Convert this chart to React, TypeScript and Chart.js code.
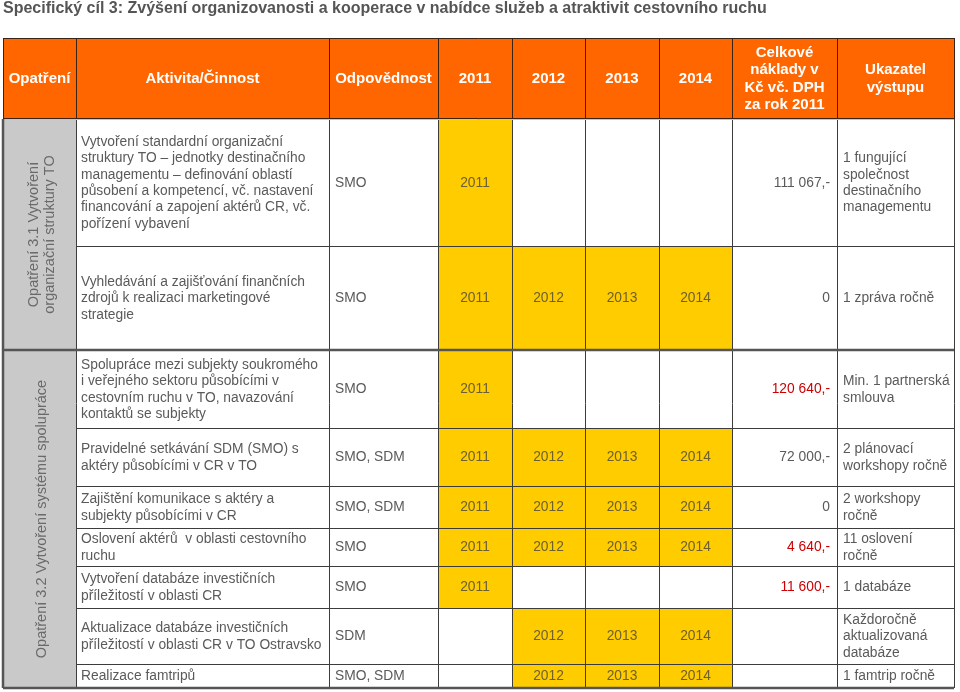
import React, { useEffect, useRef } from "react";
import { Chart, registerables } from "chart.js";
Chart.register(...registerables);

// ---------- data ----------
const TITLE =
  "Specifický cíl 3: Zvýšení organizovanosti a kooperace v nabídce služeb a atraktivit cestovního ruchu";
const HEADERS = [
  "Opatření",
  "Aktivita/Činnost",
  "Odpovědnost",
  "2011",
  "2012",
  "2013",
  "2014",
  "Celkové\nnáklady v\nKč vč. DPH\nza rok 2011",
  "Ukazatel\nvýstupu",
];
const YEARS = [2011, 2012, 2013, 2014];
const MEASURES = [
  "Opatření 3.1 Vytvoření\norganizační struktury TO",
  "Opatření 3.2 Vytvoření systému spolupráce",
];
const MEASURE_ACTIVITY_COUNT = [2, 7];
const ACTIVITIES = [
  "Vytvoření standardní organizační\nstruktury TO – jednotky destinačního\nmanagementu – definování oblastí\npůsobení a kompetencí, vč. nastavení\nfinancování a zapojení aktérů CR, vč.\npořízení vybavení",
  "Vyhledávání a zajišťování finančních\nzdrojů k realizaci marketingové\nstrategie",
  "Spolupráce mezi subjekty soukromého\ni veřejného sektoru působícími v\ncestovním ruchu v TO, navazování\nkontaktů se subjekty",
  "Pravidelné setkávání SDM (SMO) s\naktéry působícími v CR v TO",
  "Zajištění komunikace s aktéry a\nsubjekty působícími v CR",
  "Oslovení aktérů  v oblasti cestovního\nruchu",
  "Vytvoření databáze investičních\npříležitostí v oblasti CR",
  "Aktualizace databáze investičních\npříležitostí v oblasti CR v TO Ostravsko",
  "Realizace famtripů",
];
const RESPONSIBLE = ["SMO", "SMO", "SMO", "SMO, SDM", "SMO, SDM", "SMO", "SMO", "SDM", "SMO, SDM"];
const START_YEAR = [2011, 2011, 2011, 2011, 2011, 2011, 2011, 2012, 2012];
const END_YEAR = [2011, 2014, 2011, 2014, 2014, 2014, 2011, 2014, 2014];
const COSTS = ["111 067,-", "0", "120 640,-", "72 000,-", "0", "4 640,-", "11 600,-", "", ""];
const COST_HIGHLIGHT = [false, false, true, false, false, true, true, false, false];
const OUTPUTS = [
  "1 fungující\nspolečnost\ndestinačního\nmanagementu",
  "1 zpráva ročně",
  "Min. 1 partnerská\nsmlouva",
  "2 plánovací\nworkshopy ročně",
  "2 workshopy\nročně",
  "11 oslovení\nročně",
  "1 databáze",
  "Každoročně\naktualizovaná\ndatabáze",
  "1 famtrip ročně",
];

// ---------- layout (scale units) ----------
const COL_EDGES = [3, 76, 329, 438, 512, 585, 659, 732, 837, 954];
const HEADER_TOP = 38;
const ROW_EDGES = [119, 246, 350, 428, 486, 528, 566, 608, 664, 688];

// ---------- styles ----------
const FONT = "'Liberation Sans', Arial, Helvetica, sans-serif";
const ORANGE = "#FF6600";
const YELLOW = "#FFCC00";
const GREY_CELL = "#C9C9C9";
const TEXT = "#5a5a5a";
const YEAR_TEXT = "#6e6030";
const RED = "#CC0000";

function drawLines(ctx, text, x, yc, lh) {
  const lines = text.split("\n");
  const y0 = yc - ((lines.length - 1) * lh) / 2;
  lines.forEach((l, i) => ctx.fillText(l, x, y0 + i * lh));
}

const tablePlugin = {
  id: "tablePlugin",
  afterDraw(chart) {
    const ctx = chart.ctx;
    const sx = chart.scales.x;
    const sy = chart.scales.y;
    const X = (v) => sx.getPixelForValue(v);
    const Y = (v) => sy.getPixelForValue(v);
    const crisp = (p) => Math.round(p) + 0.5;
    const yearCol = (yr) => 3 + YEARS.indexOf(yr);

    ctx.save();
    ctx.fillStyle = "#ffffff";
    ctx.fillRect(0, 0, chart.width, chart.height);

    // title
    ctx.fillStyle = "#555555";
    ctx.font = `bold 16px ${FONT}`;
    ctx.textBaseline = "middle";
    ctx.textAlign = "left";
    ctx.fillText(TITLE, X(COL_EDGES[0]), Y(9));

    // header
    const hx0 = X(COL_EDGES[0]);
    const hx1 = X(COL_EDGES[COL_EDGES.length - 1]);
    const hy0 = Y(HEADER_TOP);
    const hy1 = Y(ROW_EDGES[0]);
    ctx.fillStyle = ORANGE;
    ctx.fillRect(hx0, hy0, hx1 - hx0, hy1 - hy0);
    ctx.fillStyle = "#ffffff";
    ctx.font = `bold 15px ${FONT}`;
    ctx.textAlign = "center";
    HEADERS.forEach((h, i) => {
      const cx = (X(COL_EDGES[i]) + X(COL_EDGES[i + 1])) / 2;
      drawLines(ctx, h, cx, (hy0 + hy1) / 2 + 0.5, 17.5);
    });

    // body backgrounds
    let r = 0;
    MEASURES.forEach((m, mi) => {
      const n = MEASURE_ACTIVITY_COUNT[mi];
      const top = Y(ROW_EDGES[r]);
      const bot = Y(ROW_EDGES[r + n]);
      ctx.fillStyle = GREY_CELL;
      ctx.fillRect(X(COL_EDGES[0]), top, X(COL_EDGES[1]) - X(COL_EDGES[0]), bot - top);
      r += n;
    });
    ACTIVITIES.forEach((a, i) => {
      const top = Y(ROW_EDGES[i]);
      const bot = Y(ROW_EDGES[i + 1]);
      ctx.fillStyle = YELLOW;
      for (let yr = START_YEAR[i]; yr <= END_YEAR[i]; yr++) {
        const c = yearCol(yr);
        ctx.fillRect(X(COL_EDGES[c]), top, X(COL_EDGES[c + 1]) - X(COL_EDGES[c]), bot - top);
      }
    });

    // grid lines body
    ctx.strokeStyle = "#3c3c3c";
    ctx.lineWidth = 1;
    ctx.beginPath();
    COL_EDGES.forEach((c, i) => {
      if (i === 0) return;
      ctx.moveTo(crisp(X(c)), Y(ROW_EDGES[0]));
      ctx.lineTo(crisp(X(c)), Y(ROW_EDGES[ROW_EDGES.length - 1]));
    });
    ROW_EDGES.forEach((e) => {
      ctx.moveTo(X(COL_EDGES[1]), crisp(Y(e)));
      ctx.lineTo(X(COL_EDGES[COL_EDGES.length - 1]), crisp(Y(e)));
    });
    ctx.stroke();

    // header grid
    ctx.strokeStyle = "#3b2416";
    ctx.beginPath();
    COL_EDGES.forEach((c) => {
      ctx.moveTo(crisp(X(c)), hy0);
      ctx.lineTo(crisp(X(c)), hy1);
    });
    ctx.moveTo(hx0, crisp(hy0));
    ctx.lineTo(hx1, crisp(hy0));
    ctx.moveTo(hx0, crisp(hy1) - 1);
    ctx.lineTo(hx1, crisp(hy1) - 1);
    ctx.stroke();
    ctx.strokeStyle = "#e9b9a4";
    ctx.beginPath();
    ctx.moveTo(hx0, crisp(hy1));
    ctx.lineTo(hx1, crisp(hy1));
    ctx.stroke();

    // measure separators (thick)
    ctx.strokeStyle = "#555555";
    ctx.lineWidth = 2.5;
    ctx.beginPath();
    r = 0;
    MEASURE_ACTIVITY_COUNT.forEach((n) => {
      r += n;
      const y = Math.round(Y(ROW_EDGES[r]));
      ctx.moveTo(hx0, y);
      ctx.lineTo(hx1, y);
    });
    ctx.moveTo(Math.round(hx0), hy1);
    ctx.lineTo(Math.round(hx0), Y(ROW_EDGES[ROW_EDGES.length - 1]));
    ctx.stroke();

    // measure labels (rotated)
    ctx.fillStyle = "#6a6a6a";
    ctx.font = `14.5px ${FONT}`;
    ctx.textAlign = "center";
    r = 0;
    MEASURES.forEach((m, mi) => {
      const n = MEASURE_ACTIVITY_COUNT[mi];
      const cy = (Y(ROW_EDGES[r]) + Y(ROW_EDGES[r + n])) / 2;
      const cx = (X(COL_EDGES[0]) + X(COL_EDGES[1])) / 2 + 2;
      ctx.save();
      ctx.translate(cx, cy);
      ctx.rotate(-Math.PI / 2);
      drawLines(ctx, m, 0, 0, 16);
      ctx.restore();
      r += n;
    });

    // body texts
    ctx.font = `13.8px ${FONT}`;
    ACTIVITIES.forEach((a, i) => {
      const cy = (Y(ROW_EDGES[i]) + Y(ROW_EDGES[i + 1])) / 2 + 0.5;
      ctx.fillStyle = TEXT;
      ctx.textAlign = "left";
      drawLines(ctx, a, X(COL_EDGES[1]) + 5, cy, 16.4);
      ctx.fillText(RESPONSIBLE[i], X(COL_EDGES[2]) + 6, cy);
      ctx.textAlign = "center";
      ctx.fillStyle = YEAR_TEXT;
      for (let yr = START_YEAR[i]; yr <= END_YEAR[i]; yr++) {
        const c = yearCol(yr);
        ctx.fillText(String(yr), (X(COL_EDGES[c]) + X(COL_EDGES[c + 1])) / 2, cy);
      }
      ctx.textAlign = "right";
      ctx.fillStyle = COST_HIGHLIGHT[i] ? RED : TEXT;
      if (COSTS[i]) ctx.fillText(COSTS[i], X(COL_EDGES[8]) - 7, cy);
      ctx.textAlign = "left";
      ctx.fillStyle = TEXT;
      drawLines(ctx, OUTPUTS[i], X(COL_EDGES[8]) + 6, cy, 16.4);
    });

    ctx.restore();
  },
};

export default function App() {
  const ref = useRef<HTMLCanvasElement | null>(null);
  useEffect(() => {
    if (!ref.current) return;
    const chart = new Chart(ref.current, {
      type: "scatter",
      data: { datasets: [] },
      options: {
        animation: false,
        responsive: true,
        maintainAspectRatio: false,
        layout: { padding: 0 },
        plugins: { legend: { display: false }, tooltip: { enabled: false } },
        scales: {
          x: { type: "linear", min: 0, max: 960, display: false },
          y: { type: "linear", min: 0, max: 692, reverse: true, display: false },
        },
      },
      plugins: [tablePlugin],
    });
    return () => chart.destroy();
  }, []);
  return (
    <div style={{ position: "absolute", left: 0, top: 0, width: 960, height: 692, background: "#fff" }}>
      <canvas ref={ref} />
    </div>
  );
}
